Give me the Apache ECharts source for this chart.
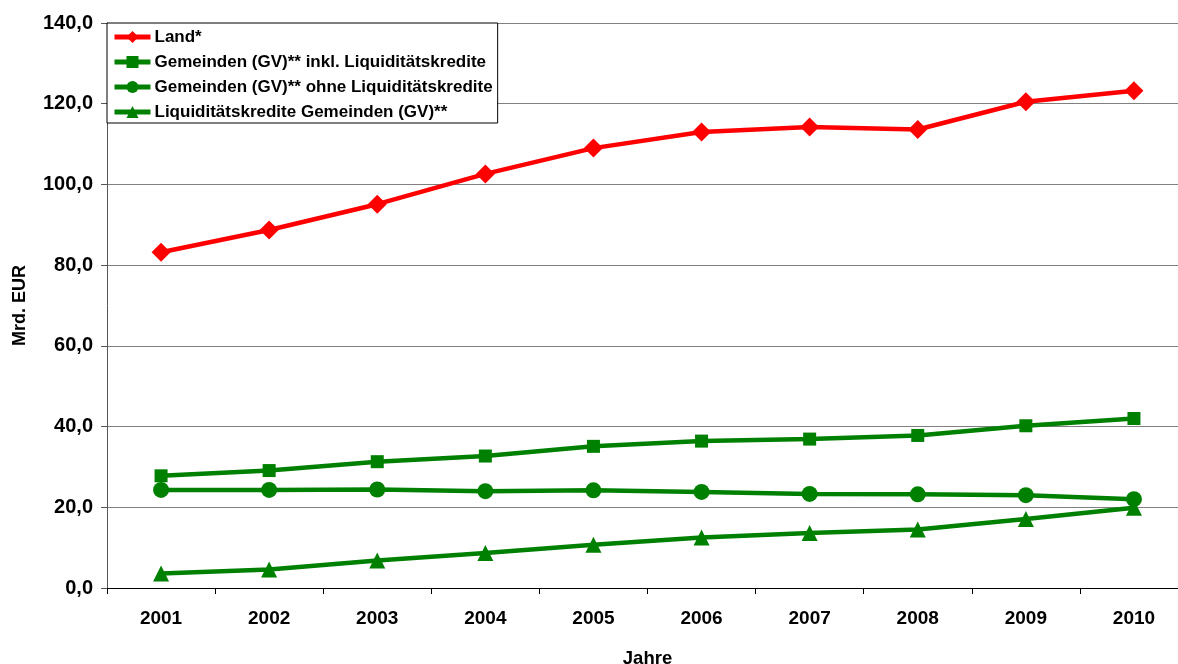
<!DOCTYPE html>
<html>
<head>
<meta charset="utf-8">
<script src="https://cdn.jsdelivr.net/npm/echarts@6/dist/echarts.min.js"></script>
<style>
  html, body { margin: 0; padding: 0; background: #fff; }
  #chart { width: 1178px; height: 664px; }
</style>
</head>
<body>
<div id="chart"></div>
<script>
// Schuldenstand in Mrd. EUR
const years = ['2001','2002','2003','2004','2005','2006','2007','2008','2009','2010'];
const land = [83.2, 88.7, 95.1, 102.6, 109.0, 113.0, 114.2, 113.6, 120.5, 123.2];
const gemeindenInkl = [27.8, 29.1, 31.3, 32.7, 35.1, 36.4, 36.9, 37.8, 40.2, 42.0];
const gemeindenOhne = [24.3, 24.3, 24.4, 24.0, 24.2, 23.8, 23.3, 23.2, 23.0, 22.0];
const liquiditaet = [3.6, 4.6, 6.8, 8.7, 10.7, 12.5, 13.6, 14.5, 17.1, 19.9];

const seriesNames = [
  'Land*',
  'Gemeinden (GV)** inkl. Liquiditätskredite',
  'Gemeinden (GV)** ohne Liquiditätskredite',
  'Liquiditätskredite Gemeinden (GV)**'
];

const font = 'Arial, "Liberation Sans", sans-serif';
const red = '#ff0000';
const green = '#008000';

function lineSeries(name, data, color, symbol, size) {
  return {
    name: name,
    type: 'line',
    data: data,
    symbol: symbol,
    symbolSize: size,
    showAllSymbol: true,
    lineStyle: { color: color, width: 4.5 },
    itemStyle: { color: color },
    emphasis: { disabled: true },
    animation: false
  };
}

const chart = echarts.init(document.getElementById('chart'), null, { renderer: 'canvas' });
chart.setOption({
  backgroundColor: '#ffffff',
  grid: { left: 107, top: 23, right: -10, bottom: 76, containLabel: false, outerBoundsMode: 'none' },
  legend: {
    orient: 'vertical',
    left: 107,
    top: 23,
    data: seriesNames,
    backgroundColor: '#ffffff',
    borderColor: '#000000',
    borderWidth: 1,
    padding: [5, 5, 2, 5],
    itemGap: 7,
    itemWidth: 36,
    itemHeight: 15,
    lineStyle: { width: 5 },
    textStyle: {
      fontFamily: font, fontWeight: 'bold', fontSize: 17, lineHeight: 18,
      color: '#000', padding: [0, 0, 0, -1]
    },
    selectedMode: false
  },
  xAxis: {
    type: 'category',
    data: years,
    boundaryGap: true,
    name: 'Jahre',
    nameLocation: 'middle',
    nameGap: 61,
    nameTextStyle: { fontFamily: font, fontWeight: 'bold', fontSize: 18.5, color: '#000' },
    axisLine: { lineStyle: { color: '#000', width: 1 } },
    axisTick: { show: true, length: 6, alignWithLabel: false, lineStyle: { color: '#000' } },
    axisLabel: { fontFamily: font, fontWeight: 'bold', fontSize: 19, color: '#000', margin: 21 },
    splitLine: { show: false }
  },
  yAxis: {
    type: 'value',
    min: 0,
    max: 140,
    interval: 20,
    name: 'Mrd. EUR',
    nameLocation: 'middle',
    nameRotate: 90,
    nameGap: 78,
    nameTextStyle: { fontFamily: font, fontWeight: 'bold', fontSize: 18, color: '#000' },
    axisLine: { show: true, lineStyle: { color: '#555', width: 1 } },
    axisTick: { show: true, length: 6, lineStyle: { color: '#555' } },
    axisLabel: {
      fontFamily: font, fontWeight: 'bold', fontSize: 20, color: '#000', margin: 14,
      formatter: function (v) { return v.toFixed(1).replace('.', ','); }
    },
    splitLine: { show: true, lineStyle: { color: '#808080', width: 1 } }
  },
  series: [
    lineSeries(seriesNames[0], land, red, 'diamond', 19),
    lineSeries(seriesNames[1], gemeindenInkl, green, 'rect', 13),
    lineSeries(seriesNames[2], gemeindenOhne, green, 'circle', 16),
    lineSeries(seriesNames[3], liquiditaet, green, 'triangle', 16)
  ]
});
</script>
</body>
</html>
